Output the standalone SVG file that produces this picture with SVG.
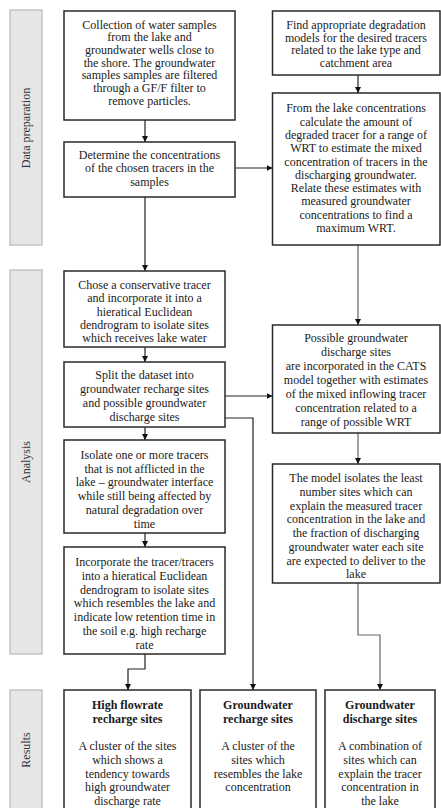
<svg xmlns="http://www.w3.org/2000/svg" width="441" height="808" viewBox="0 0 441 808">
<defs>
<marker id="ah" viewBox="0 0 10 10" refX="10" refY="5" markerWidth="6" markerHeight="6" markerUnits="userSpaceOnUse" orient="auto">
<path d="M0,0 L10,5 L0,10 z" fill="#111"/>
</marker>
<style>
.bar{fill:#e6e6e6;stroke:#c4c4c4;stroke-width:1.5}
.box{fill:#fff;stroke:#2a2a2a;stroke-width:1.5}
text{font-family:"Liberation Serif","Times New Roman",serif;font-size:12px;fill:#1a1a1a}
.c{text-anchor:middle}
.b{font-weight:bold}
.lbl{text-anchor:middle;font-size:12px;fill:#333}
.cn{fill:none;stroke:#222;stroke-width:1.2}
.cg{fill:none;stroke:#666;stroke-width:1.2}
</style>
</defs>
<rect width="441" height="808" fill="#fff"/>

<g id="lane-data">
<rect class="bar" x="10" y="10" width="32" height="235"/>
<text class="lbl" transform="rotate(-90 30 128)" x="30" y="128">Data preparation</text>
</g>
<g id="lane-analysis">
<rect class="bar" x="10" y="270" width="32" height="384"/>
<text class="lbl" transform="rotate(-90 30 462)" x="30" y="462">Analysis</text>
</g>
<g id="lane-results">
<rect class="bar" x="10" y="690" width="32" height="125"/>
<text class="lbl" transform="rotate(-90 30 750)" x="30" y="750">Results</text>
</g>

<g id="connectors">
<path class="cn" d="M145,120 V142" marker-end="url(#ah)"/>
<path class="cn" d="M358,75 V93" marker-end="url(#ah)"/>
<path class="cn" d="M235,168 H272.5" marker-end="url(#ah)"/>
<path class="cn" d="M145,197 V271" marker-end="url(#ah)"/>
<path class="cg" d="M358,245 V325" marker-end="url(#ah)"/>
<path class="cn" d="M145,347 V362" marker-end="url(#ah)"/>
<path class="cn" d="M225,396 H272.5" marker-end="url(#ah)"/>
<path class="cn" d="M225,418 H253 V690" marker-end="url(#ah)"/>
<path class="cn" d="M145,427 V440" marker-end="url(#ah)"/>
<path class="cn" d="M145,533 V547" marker-end="url(#ah)"/>
<path class="cg" d="M358,433 V464" marker-end="url(#ah)"/>
<path class="cn" d="M145,654 V669 H128 V690" marker-end="url(#ah)"/>
<path class="cg" d="M358,583 V635 H380 V690" marker-end="url(#ah)"/>
</g>

<g id="n1">
<rect class="box" x="64" y="11" width="171" height="109"/>
<text class="c" x="149.5" y="28.5">Collection of water samples</text>
<text class="c" x="149.5" y="41.2">from the lake and</text>
<text class="c" x="149.5" y="53.9">groundwater wells close to</text>
<text class="c" x="149.5" y="66.6">the shore. The groundwater</text>
<text class="c" x="149.5" y="79.3">samples samples are filtered</text>
<text class="c" x="149.5" y="92">through a GF/F filter to</text>
<text class="c" x="149.5" y="104.7">remove particles.</text>
</g>
<g id="n2">
<rect class="box" x="64" y="142" width="171" height="55"/>
<text class="c" x="149.5" y="159">Determine the concentrations</text>
<text class="c" x="149.5" y="172.3">of the chosen tracers in the</text>
<text class="c" x="149.5" y="185.6">samples</text>
</g>
<g id="n3">
<rect class="box" x="272.5" y="11" width="167.5" height="64"/>
<text class="c" x="356" y="29">Find appropriate degradation</text>
<text class="c" x="356" y="41.7">models for the desired tracers</text>
<text class="c" x="356" y="54.4">related to the lake type and</text>
<text class="c" x="356" y="67.1">catchment area</text>
</g>
<g id="n4">
<rect class="box" x="272.5" y="93" width="167.5" height="152"/>
<text class="c" x="356" y="112.3">From the lake concentrations</text>
<text class="c" x="356" y="125.6">calculate the amount of</text>
<text class="c" x="356" y="138.9">degraded tracer for a range of</text>
<text class="c" x="356" y="152.2">WRT to estimate the mixed</text>
<text class="c" x="356" y="165.5">concentration of tracers in the</text>
<text class="c" x="356" y="178.8">discharging groundwater.</text>
<text class="c" x="356" y="192.1">Relate these estimates with</text>
<text class="c" x="356" y="205.4">measured groundwater</text>
<text class="c" x="356" y="218.7">concentrations to find a</text>
<text class="c" x="356" y="232">maximum WRT.</text>
</g>
<g id="n5">
<rect class="box" x="64" y="271" width="161" height="76"/>
<text class="c" x="144.5" y="289">Chose a conservative tracer</text>
<text class="c" x="144.5" y="302.3">and incorporate it into a</text>
<text class="c" x="144.5" y="315.6">hieratical Euclidean</text>
<text class="c" x="144.5" y="328.9">dendrogram to isolate sites</text>
<text class="c" x="144.5" y="342.2">which receives lake water</text>
</g>
<g id="n6">
<rect class="box" x="64" y="362" width="161" height="65"/>
<text class="c" x="144.5" y="379">Split the dataset into</text>
<text class="c" x="144.5" y="392.9">groundwater recharge sites</text>
<text class="c" x="144.5" y="406.8">and possible groundwater</text>
<text class="c" x="144.5" y="420.7">discharge sites</text>
</g>
<g id="n7">
<rect class="box" x="272.5" y="325" width="167.5" height="108"/>
<text class="c" x="356" y="342">Possible groundwater</text>
<text class="c" x="356" y="356">discharge sites</text>
<text class="c" x="356" y="370">are incorporated in the CATS</text>
<text class="c" x="356" y="384">model together with estimates</text>
<text class="c" x="356" y="398">of the mixed inflowing tracer</text>
<text class="c" x="356" y="412">concentration related to a</text>
<text class="c" x="356" y="426">range of possible WRT</text>
</g>
<g id="n8">
<rect class="box" x="64" y="440" width="161" height="93"/>
<text class="c" x="144.5" y="459">Isolate one or more tracers</text>
<text class="c" x="144.5" y="472.7">that is not afflicted in the</text>
<text class="c" x="144.5" y="486.4">lake – groundwater interface</text>
<text class="c" x="144.5" y="500.1">while still being affected by</text>
<text class="c" x="144.5" y="513.8">natural degradation over</text>
<text class="c" x="144.5" y="527.5">time</text>
</g>
<g id="n9">
<rect class="box" x="64" y="547" width="161" height="107"/>
<text class="c" x="144.5" y="565.7">Incorporate the tracer/tracers</text>
<text class="c" x="144.5" y="579.6">into a hieratical Euclidean</text>
<text class="c" x="144.5" y="593.5">dendrogram to isolate sites</text>
<text class="c" x="144.5" y="607.4">which resembles the lake and</text>
<text class="c" x="144.5" y="621.3">indicate low retention time in</text>
<text class="c" x="144.5" y="635.2">the soil e.g. high recharge</text>
<text class="c" x="144.5" y="649.1">rate</text>
</g>
<g id="n10">
<rect class="box" x="272.5" y="464" width="167.5" height="119"/>
<text class="c" x="356" y="482.3">The model isolates the least</text>
<text class="c" x="356" y="496">number sites which can</text>
<text class="c" x="356" y="509.7">explain the measured tracer</text>
<text class="c" x="356" y="523.4">concentration in the lake and</text>
<text class="c" x="356" y="537.1">the fraction of discharging</text>
<text class="c" x="356" y="550.8">groundwater water each site</text>
<text class="c" x="356" y="564.5">are expected to deliver to the</text>
<text class="c" x="356" y="578.2">lake</text>
</g>
<g id="n11">
<rect class="box" x="64" y="690" width="127" height="125"/>
<text class="c b" x="127.5" y="709">High flowrate</text>
<text class="c b" x="127.5" y="722.5">recharge sites</text>
<text class="c" x="127.5" y="750">A cluster of the sites</text>
<text class="c" x="127.5" y="763.8">which shows a</text>
<text class="c" x="127.5" y="777.6">tendency towards</text>
<text class="c" x="127.5" y="791.4">high groundwater</text>
<text class="c" x="127.5" y="805.2">discharge rate</text>
</g>
<g id="n12">
<rect class="box" x="200" y="690" width="116" height="125"/>
<text class="c b" x="258" y="709">Groundwater</text>
<text class="c b" x="258" y="722.5">recharge sites</text>
<text class="c" x="258" y="750">A cluster of the</text>
<text class="c" x="258" y="763.8">sites which</text>
<text class="c" x="258" y="777.6">resembles the lake</text>
<text class="c" x="258" y="791.4">concentration</text>
</g>
<g id="n13">
<rect class="box" x="325" y="690" width="110" height="125"/>
<text class="c b" x="380" y="709">Groundwater</text>
<text class="c b" x="380" y="722.5">discharge sites</text>
<text class="c" x="380" y="750">A combination of</text>
<text class="c" x="380" y="763.8">sites which can</text>
<text class="c" x="380" y="777.6">explain the tracer</text>
<text class="c" x="380" y="791.4">concentration in</text>
<text class="c" x="380" y="805.2">the lake</text>
</g>
</svg>
